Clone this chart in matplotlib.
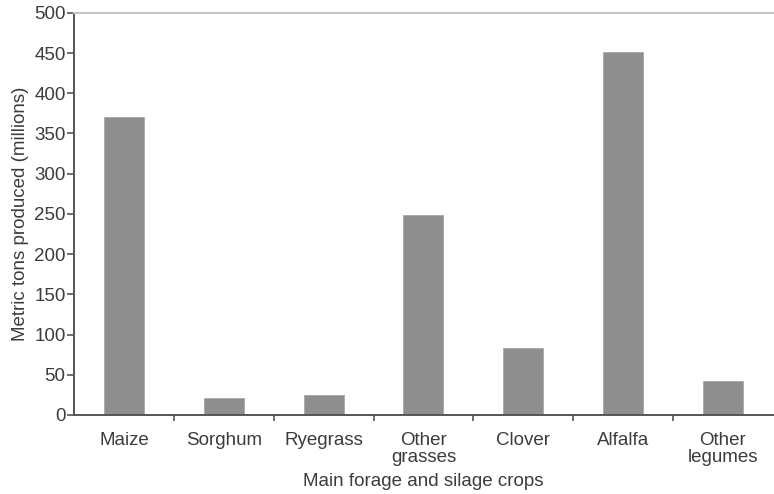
import numpy as np
import matplotlib.pyplot as plt

plt.rcParams['font.family'] = ['Liberation Sans', 'DejaVu Sans']

crops = ['Maize', 'Sorghum', 'Ryegrass', 'Other\ngrasses', 'Clover', 'Alfalfa', 'Other\nlegumes']
tons = [370, 21, 25, 249, 83, 451, 42]

text_col = '#3c3c3c'
fs = 13.5
fig = plt.figure(figsize=(7.74, 4.94), dpi=100)
ax = fig.add_axes([0.0956, 0.16, 0.903, 0.814])

x = np.arange(len(crops))
ax.bar(x, tons, width=0.4, color='#8e8e91', edgecolor='#a8a8aa', linewidth=0.6)

ax.set_xlim(-0.5, len(crops) - 0.5)
ax.set_ylim(0, 500)
ax.set_yticks(np.arange(0, 501, 50))

# category labels centred, ticks at the boundaries
ax.set_xticks(x)
ax.set_xticklabels(crops, linespacing=1.05)
ax.tick_params(axis='x', which='major', length=0, pad=12, labelsize=fs, labelcolor=text_col)
ax.set_xticks(np.arange(0.5, len(crops) - 1, 1), minor=True)
ax.tick_params(axis='x', which='minor', length=4, width=1.2, color='#555555', direction='out')
ax.tick_params(axis='y', length=5, width=1.2, color='#555555', labelsize=fs, labelcolor=text_col, pad=1)

for s in ['left', 'bottom']:
    ax.spines[s].set_color('#555555')
    ax.spines[s].set_linewidth(1.4)
ax.spines['right'].set_visible(False)
ax.spines['top'].set_color('#c4c4c4')
ax.spines['top'].set_linewidth(1.5)

ax.set_xlabel('Main forage and silage crops', fontsize=fs, color=text_col, labelpad=5)
ax.set_ylabel('Metric tons produced (millions)', fontsize=fs, color=text_col, labelpad=4)

fig.savefig('out.png', dpi=100)
